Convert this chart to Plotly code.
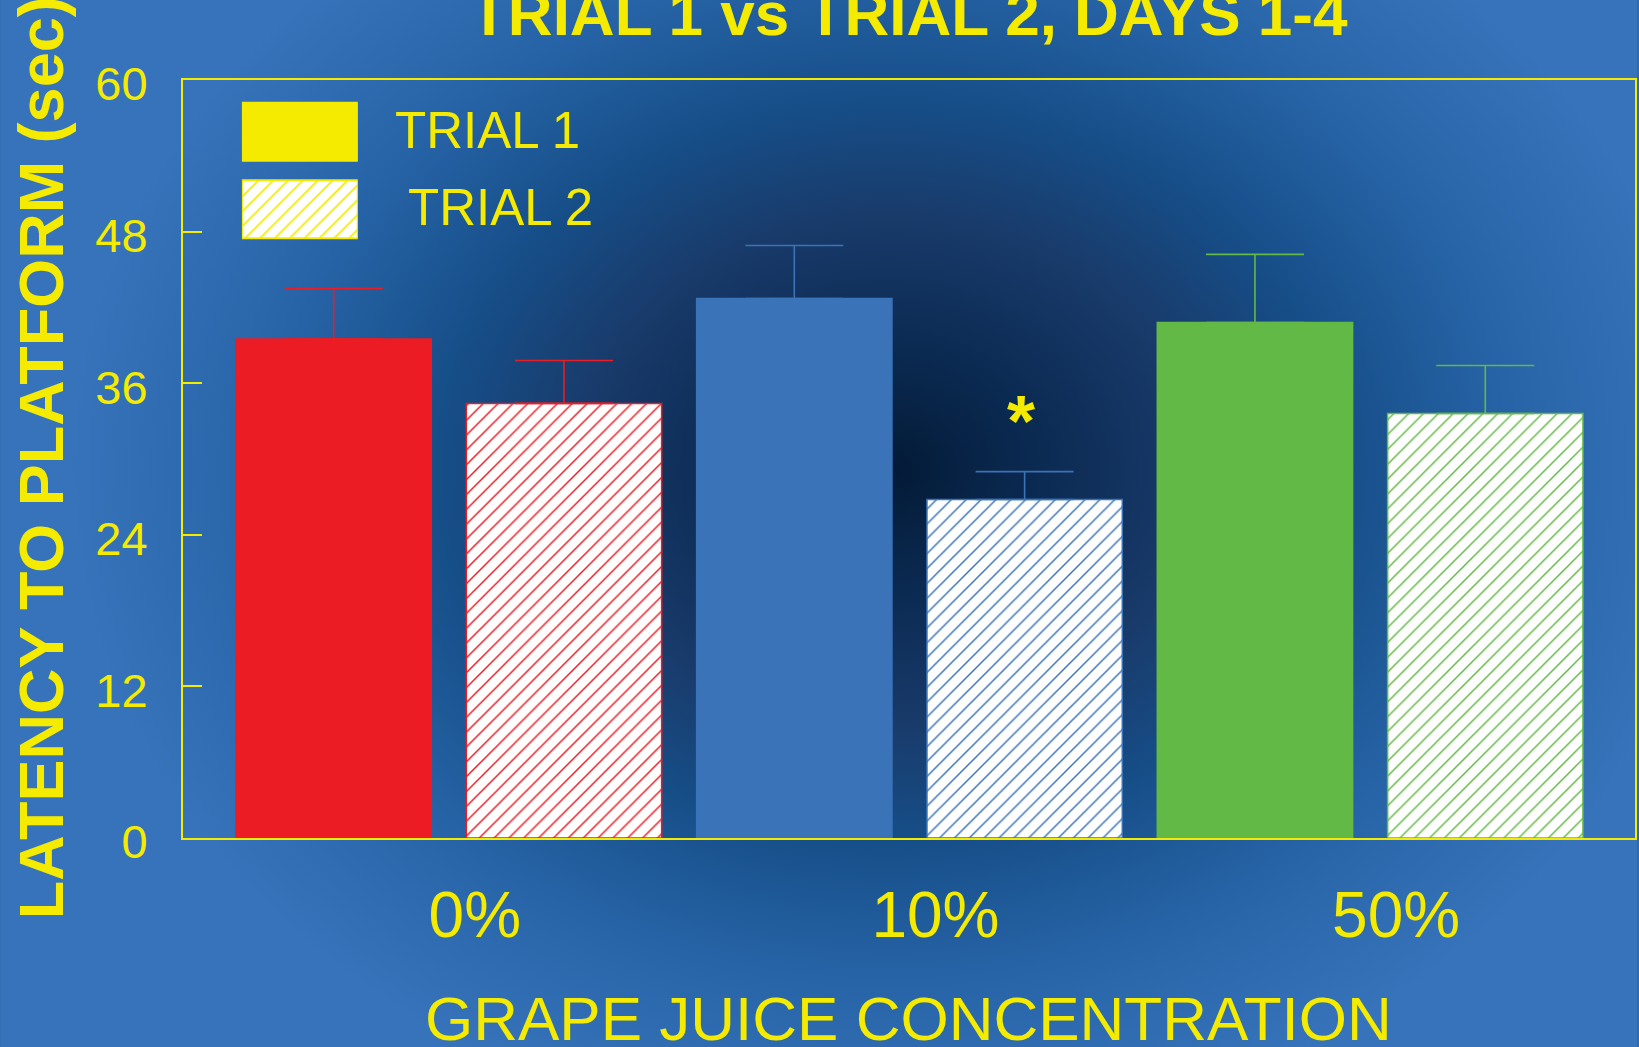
import base64
import plotly.graph_objects as go

# ---------------- data ----------------
categories = ["0%", "10%", "50%"]
series_names = ["TRIAL 1", "TRIAL 2"]
trial1_mean = [39.5, 42.7, 40.8]
trial1_err = [4.0, 4.2, 5.4]
trial2_mean = [34.4, 26.8, 33.6]
trial2_err = [3.4, 2.2, 3.8]
bar_colors = ["#ec1c24", "#3b73b9", "#63b946"]
y_ticks = [0, 12, 24, 36, 48, 60]
sig_category = "10%"
sig_label = "*"

# ---------------- style ----------------
W, H = 1639, 1047
ML, MR, MT, MB = 183, 2, 80, 209
PW, PH = W - ML - MR, H - MT - MB
YEL = "#f5eb00"
FONT = "Liberation Sans, Arial, sans-serif"


def px_x(px):
    return (px - ML) / PW


def px_y(py):
    return (H - MB - py) / PH


fig = go.Figure()

for i, cat in enumerate(categories):
    c = bar_colors[i]
    fig.add_trace(go.Bar(
        x=[cat], y=[trial1_mean[i]], offsetgroup="t1", name=series_names[0],
        marker=dict(color=c, line=dict(color=c, width=1.5)),
        error_y=dict(type="data", array=[trial1_err[i]], arrayminus=[0], symmetric=False,
                     color=c, thickness=1.6, width=49),
        showlegend=False,
    ))
    fig.add_trace(go.Bar(
        x=[cat], y=[trial2_mean[i]], offsetgroup="t2", name=series_names[1],
        marker=dict(color="white", line=dict(color=c, width=1.5),
                    pattern=dict(shape="/", fgcolor=c, bgcolor="white", size=10.5,
                                 solidity=0.14, fgopacity=1)),
        error_y=dict(type="data", array=[trial2_err[i]], arrayminus=[0], symmetric=False,
                     color=c, thickness=1.6, width=49),
        showlegend=False,
    ))

# legend swatches on a small helper axis
fig.add_trace(go.Bar(
    y=[series_names[0]], x=[1], orientation="h", xaxis="x2", yaxis="y2", width=0.75,
    offsetgroup="lg", marker=dict(color=YEL, line=dict(color=YEL, width=2)),
    showlegend=False, hoverinfo="skip",
))
fig.add_trace(go.Bar(
    y=[series_names[1]], x=[1], orientation="h", xaxis="x2", yaxis="y2", width=0.75,
    offsetgroup="lg",
    marker=dict(color="white", line=dict(color=YEL, width=2),
                pattern=dict(shape="/", fgcolor=YEL, bgcolor="white", size=10.5,
                             solidity=0.16, fgopacity=1)),
    showlegend=False, hoverinfo="skip",
))

# background radial gradient
svg = (
    f'<svg xmlns="http://www.w3.org/2000/svg" width="{W}" height="{H}" viewBox="0 0 {W} {H}" '
    'preserveAspectRatio="none"><defs>'
    '<radialGradient id="g" gradientUnits="userSpaceOnUse" cx="890" cy="470" r="820" '
    'gradientTransform="translate(890 470) scale(1 0.82) translate(-890 -470)">'
    '<stop offset="0" stop-color="#031a36"/>'
    '<stop offset="0.18" stop-color="#0b2a52"/>'
    '<stop offset="0.38" stop-color="#193b6b"/>'
    '<stop offset="0.55" stop-color="#164e88"/>'
    '<stop offset="0.75" stop-color="#2663a6"/>'
    '<stop offset="1" stop-color="#3673ba"/>'
    '</radialGradient></defs>'
    f'<rect width="{W}" height="{H}" fill="url(#g)"/></svg>'
)
src = "data:image/svg+xml;base64," + base64.b64encode(svg.encode()).decode()

fig.update_layout(
    width=W, height=H,
    margin=dict(l=ML, r=MR, t=MT, b=MB, pad=0),
    paper_bgcolor="#2f6aae", plot_bgcolor="rgba(0,0,0,0)",
    barmode="group", bargap=0, bargroupgap=0.152,
    font=dict(family=FONT, color=YEL),
    images=[dict(source=src, xref="paper", yref="paper", x=px_x(0), y=px_y(0),
                 sizex=W / PW, sizey=H / PH, xanchor="left", yanchor="top",
                 sizing="stretch", layer="below")],
    xaxis=dict(categoryorder="array", categoryarray=categories, range=[-0.577, 2.575],
               showline=True, mirror=True, linecolor=YEL, linewidth=2,
               ticks="", showgrid=False, zeroline=False,
               tickfont=dict(size=64, color=YEL, family=FONT),
               ticklabelstandoff=20, ticklabelshift=26),
    yaxis=dict(range=[0, 60], tickvals=y_ticks, showline=True, mirror=True,
               linecolor=YEL, linewidth=2, ticks="inside", ticklen=19, tickwidth=2,
               tickcolor=YEL, showgrid=False, zeroline=False,
               tickfont=dict(size=47, color=YEL, family=FONT),
               ticklabelstandoff=24, ticklabelshift=4),
    xaxis2=dict(domain=[px_x(242), px_x(358)], range=[0, 1], visible=False,
                anchor="y2", fixedrange=True),
    yaxis2=dict(domain=[px_y(248), px_y(93)], visible=False, anchor="x2",
                autorange="reversed", type="category", fixedrange=True),
    annotations=[
        dict(text="TRIAL 1 vs TRIAL 2, DAYS 1-4", xref="paper", yref="paper",
             x=0.5, y=px_y(13), xanchor="center", yanchor="middle", showarrow=False,
             font=dict(size=62, color=YEL, family=FONT, weight="bold")),
        dict(text="LATENCY TO PLATFORM (sec)", xref="paper", yref="paper",
             x=px_x(41), y=px_y(458), textangle=-90, xanchor="center", yanchor="middle",
             showarrow=False, font=dict(size=63, color=YEL, family=FONT, weight="bold")),
        dict(text="GRAPE JUICE CONCENTRATION", xref="paper", yref="paper",
             x=px_x(909), y=px_y(1018), xanchor="center", yanchor="middle",
             showarrow=False, font=dict(size=62, color=YEL, family=FONT)),
        dict(text=series_names[0], xref="paper", yref="paper", x=px_x(393), y=px_y(130),
             xanchor="left", yanchor="middle", showarrow=False,
             font=dict(size=51, color=YEL, family=FONT)),
        dict(text=series_names[1], xref="paper", yref="paper", x=px_x(406), y=px_y(207),
             xanchor="left", yanchor="middle", showarrow=False,
             font=dict(size=51, color=YEL, family=FONT)),
        dict(text=sig_label, xref="x", yref="y", x=sig_category, xshift=112,
             y=trial2_mean[categories.index(sig_category)] + trial2_err[categories.index(sig_category)] + 4.0,
             xanchor="center", yanchor="middle", showarrow=False,
             font=dict(size=72, color=YEL, family=FONT, weight="bold")),
    ],
)

fig.write_html("out.html", config={"displayModeBar": False},
               post_script="document.body.style.margin='0';document.body.style.overflow='hidden';")
